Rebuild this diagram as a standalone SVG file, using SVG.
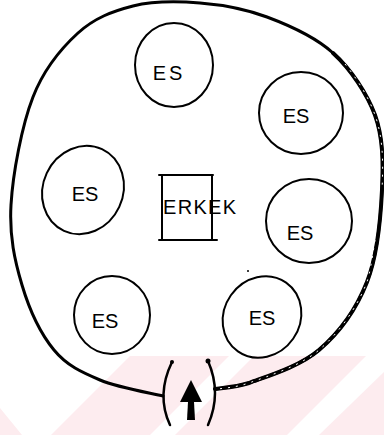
<svg xmlns="http://www.w3.org/2000/svg" width="384" height="435" viewBox="0 0 384 435">
<style>
.ln{fill:none;stroke:#000;stroke-linecap:round;stroke-linejoin:round}
.es{fill:none;stroke:#000;stroke-width:2}
.lbl{font-family:"Liberation Sans",Arial,sans-serif;font-size:20px;fill:#000}
.wm{fill:#fdecef;stroke:none}
</style>
<rect width="384" height="435" fill="#fff"/>
<g id="watermark">
<polygon class="wm" points="0,408 22,435 0,435"/>
<polygon class="wm" points="130,356 229,356 150,435 51,435"/>
<polygon class="wm" points="254,356 366,356 287,435 175,435"/>
<polygon class="wm" points="384,372 384,435 319,435"/>
</g>
<g id="enclosure">
<path class="ln" stroke-width="3" d="M163,396 C152.5,393.3 118.2,387.7 100,380 C81.8,372.3 67,365.8 54,350 C41,334.2 29.2,309.2 22,285 C14.8,260.8 9.2,236.3 11,205 C12.8,173.7 21.8,125.7 33,97 C44.2,68.3 61.3,48.2 78,33 C94.7,17.8 112.7,11.2 133,6 C153.3,1 177.7,1.2 200,3 C222.3,4.8 244.8,8.7 267,17 C289.2,25.3 314.7,36.3 333,53 C351,69.3 367,93.8 375,115 C383.2,137.8 383.3,162.2 382,190 C380.7,217.8 377.5,255.3 367,282 C356.5,308.7 338.7,333.2 319,350 C299.3,366.8 266.3,376.5 249,383 C235,387.5 220.7,388 215,389"/>
<path class="ln" stroke-width="4" d="M333,53 C351,69.3 367,93.8 375,115 C383.2,137.8 383.3,162.2 382,190 C380.7,217.8 377.5,255.3 367,282 C356.5,308.7 338.7,333.2 319,350 C299.3,366.8 266.3,376.5 249,383 C235,387.5 220.7,388 215,389"/>
<path fill="none" stroke="#fff" stroke-width="1" stroke-dasharray="2 6" d="M345,64 C358,80 369,98 375,115 C383.2,137.8 383.3,162.2 382,190 M375,240 C372,260 370,272 367,282 C356.5,308.7 338.7,333.2 319,350 C299.3,366.8 266.3,376.5 249,383 C235,387.5 225,388 218,389"/>
</g>
<g id="gate">
<path class="ln" stroke-width="2.5" d="M172,362 Q156,395 170,425"/>
<path class="ln" stroke-width="2.5" d="M208,361 Q222,393 208,425"/>
<circle cx="172" cy="362" r="2"/>
<circle cx="208" cy="361" r="2.5"/>
</g>
<g id="connectors">
<polygon points="191,380 202,402 180,402" fill="#000"/>
<polygon points="188,402 194,402 195,420 187,420" fill="#000"/>
</g>
<g id="es1">
<ellipse class="es" cx="174" cy="65" rx="39" ry="42"/>
<text class="lbl" x="169" y="80" text-anchor="middle" letter-spacing="3">ES</text>
</g>
<g id="es2">
<ellipse class="es" cx="301" cy="113" rx="42" ry="41"/>
<text class="lbl" x="296" y="123" text-anchor="middle">ES</text>
</g>
<g id="es3">
<ellipse class="es" cx="83" cy="190" rx="40" ry="45" transform="rotate(25 83 190)"/>
<text class="lbl" x="85" y="201" text-anchor="middle">ES</text>
</g>
<g id="es4">
<ellipse class="es" cx="309" cy="221" rx="43" ry="42"/>
<text class="lbl" x="300" y="240" text-anchor="middle">ES</text>
</g>
<g id="es5">
<ellipse class="es" cx="112" cy="315" rx="38" ry="39"/>
<text class="lbl" x="105" y="328" text-anchor="middle">ES</text>
</g>
<g id="es6">
<ellipse class="es" cx="262" cy="317" rx="42" ry="38" transform="rotate(-55 262 317)"/>
<text class="lbl" x="262" y="325" text-anchor="middle">ES</text>
</g>
<g id="erkek">
<path class="ln" stroke-width="2" d="M159,175 L213,175 M162,175 L162,240 M212,175 L212,240 M159,240 L217,240"/>
<text class="lbl" x="163" y="214" letter-spacing="1.3">ERKEK</text>
</g>
<circle cx="248" cy="271" r="1" fill="#000"/>
</svg>
